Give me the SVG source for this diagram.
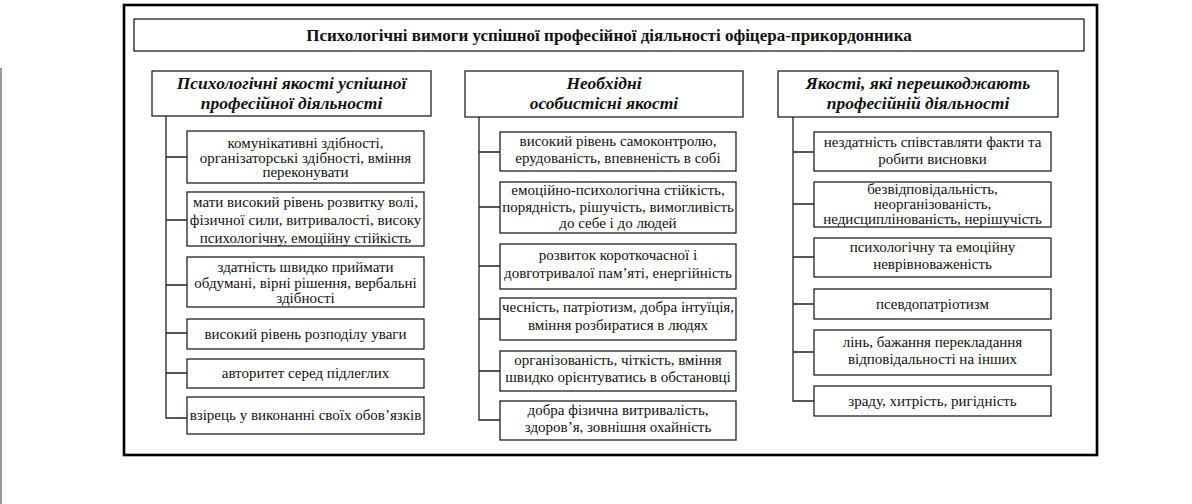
<svg xmlns="http://www.w3.org/2000/svg" width="1192" height="504" viewBox="0 0 1192 504">
<style>
.box{fill:#fff;stroke:#222;stroke-width:1.3}
.frame{fill:none;stroke:#000;stroke-width:2.6}
.t{font-family:"Liberation Serif","Times New Roman",serif;font-size:15px;fill:#111;text-anchor:middle}
.h{font-family:"Liberation Serif","Times New Roman",serif;font-size:17.5px;font-weight:bold;font-style:italic;fill:#111;text-anchor:middle}
.tt{font-family:"Liberation Serif","Times New Roman",serif;font-size:17px;font-weight:bold;fill:#111;text-anchor:middle}
.c{fill:none;stroke:#222;stroke-width:1.3}
</style>
<rect width="1192" height="504" fill="#fff"/>
<line x1="1" y1="68" x2="1" y2="504" stroke="#777" stroke-width="1.5"/>
<rect class="frame" x="124" y="5" width="973" height="450"/>
<g id="title"><rect class="box" x="134" y="19" width="950" height="32"/><text class="tt" x="609" y="41">Психологічні вимоги успішної професійної діяльності офіцера-прикордонника</text></g>
<g id="connectors">
<path class="c" d="M166 116V418H187M166 157H187M166 220H187M166 285H187M166 333H187M166 373H187"/>
<path class="c" d="M479 117V420H500M479 152H500M479 207H500M479 266H500M479 319H500M479 371H500"/>
<path class="c" d="M793 117V401H814M793 152H814M793 204H814M793 257H814M793 304H814M793 352H814"/>
</g>
<g id="h1"><rect class="box" x="152" y="71" width="279" height="45"/><text class="h" x="291.5" y="89">Психологічні якості успішної</text><text class="h" x="291.5" y="109">професійної діяльності</text></g>
<g id="h2"><rect class="box" x="465" y="71" width="278" height="46"/><text class="h" x="604" y="89">Необхідні</text><text class="h" x="604" y="109">особистісні якості</text></g>
<g id="h3"><rect class="box" x="778" y="71" width="280" height="46"/><text class="h" x="918" y="89">Якості, які перешкоджають</text><text class="h" x="918" y="109">професійній діяльності</text></g>
<g id="l1"><rect class="box" x="187" y="131" width="237" height="52"/><text class="t" x="305.5" y="148">комунікативні здібності,</text><text class="t" x="305.5" y="162.5">організаторські здібності, вміння</text><text class="t" x="305.5" y="177">переконувати</text></g>
<g id="l2"><rect class="box" x="187" y="192" width="237" height="54"/><text class="t" x="305.5" y="207">мати високий рівень розвитку волі,</text><text class="t" x="305.5" y="225">фізичної сили, витривалості, високу</text><text class="t" x="305.5" y="243">психологічну, емоційну стійкість</text></g>
<g id="l3"><rect class="box" x="187" y="257" width="237" height="50"/><text class="t" x="305.5" y="272">здатність швидко приймати</text><text class="t" x="305.5" y="288">обдумані, вірні рішення, вербальні</text><text class="t" x="305.5" y="303">здібності</text></g>
<g id="l4"><rect class="box" x="187" y="319" width="237" height="30"/><text class="t" x="305.5" y="339">високий рівень розподілу уваги</text></g>
<g id="l5"><rect class="box" x="187" y="359" width="237" height="29"/><text class="t" x="305.5" y="378">авторитет серед підлеглих</text></g>
<g id="l6"><rect class="box" x="187" y="397" width="237" height="37"/><text class="t" x="305.5" y="420">взірець у виконанні своїх обов’язків</text></g>
<g id="m1"><rect class="box" x="500" y="132" width="236" height="39"/><text class="t" x="618" y="146">високий рівень самоконтролю,</text><text class="t" x="618" y="163">ерудованість, впевненість в собі</text></g>
<g id="m2"><rect class="box" x="500" y="182" width="236" height="51"/><text class="t" x="618" y="195">емоційно-психологічна стійкість,</text><text class="t" x="618" y="212">порядність, рішучість, вимогливість</text><text class="t" x="618" y="228">до себе і до людей</text></g>
<g id="m3"><rect class="box" x="500" y="244" width="236" height="45"/><text class="t" x="618" y="260">розвиток короткочасної і</text><text class="t" x="618" y="278">довготривалої пам’яті, енергійність</text></g>
<g id="m4"><rect class="box" x="500" y="298" width="236" height="42"/><text class="t" x="618" y="312">чесність, патріотизм, добра інтуїція,</text><text class="t" x="618" y="330">вміння розбиратися в людях</text></g>
<g id="m5"><rect class="box" x="500" y="351" width="236" height="40"/><text class="t" x="618" y="365">організованість, чіткість, вміння</text><text class="t" x="618" y="382">швидко орієнтуватись в обстановці</text></g>
<g id="m6"><rect class="box" x="500" y="401" width="236" height="39"/><text class="t" x="618" y="415">добра фізична витривалість,</text><text class="t" x="618" y="432">здоров’я, зовнішня охайність</text></g>
<g id="r1"><rect class="box" x="814" y="132" width="237" height="39"/><text class="t" x="932.5" y="147">нездатність співставляти факти та</text><text class="t" x="932.5" y="164">робити висновки</text></g>
<g id="r2"><rect class="box" x="814" y="182" width="237" height="45"/><text class="t" x="932.5" y="194">безвідповідальність,</text><text class="t" x="932.5" y="209">неорганізованість,</text><text class="t" x="932.5" y="224">недисциплінованість, нерішучість</text></g>
<g id="r3"><rect class="box" x="814" y="238" width="237" height="39"/><text class="t" x="932.5" y="252">психологічну та емоційну</text><text class="t" x="932.5" y="269">неврівноваженість</text></g>
<g id="r4"><rect class="box" x="814" y="289" width="237" height="30"/><text class="t" x="932.5" y="309">псевдопатріотизм</text></g>
<g id="r5"><rect class="box" x="814" y="330" width="237" height="45"/><text class="t" x="932.5" y="347">лінь, бажання перекладання</text><text class="t" x="932.5" y="364">відповідальності на інших</text></g>
<g id="r6"><rect class="box" x="814" y="386" width="237" height="30"/><text class="t" x="932.5" y="406">зраду, хитрість, ригідність</text></g>
</svg>
